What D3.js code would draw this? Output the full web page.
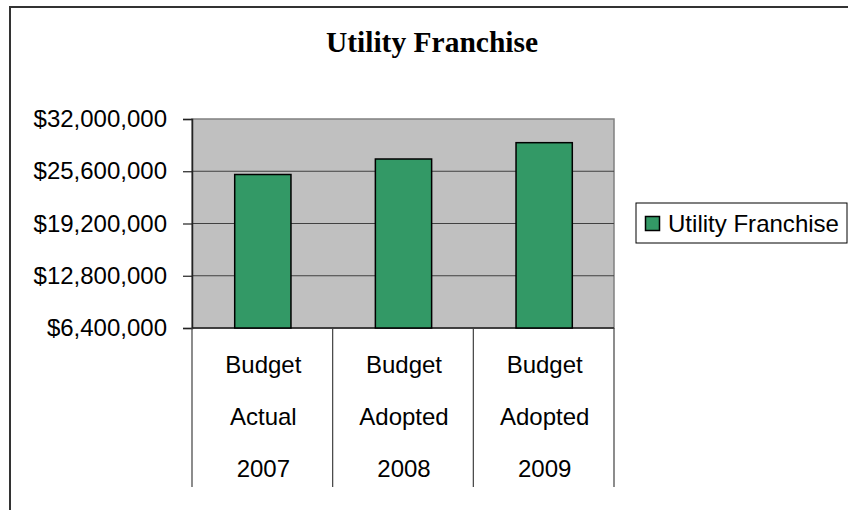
<!DOCTYPE html>
<html>
<head>
<meta charset="utf-8">
<script src="https://cdn.jsdelivr.net/npm/d3@7"></script>
<style>
  html, body { margin: 0; padding: 0; background: #fff; }
  svg { display: block; }
</style>
</head>
<body>
<svg id="chart" width="848" height="510"></svg>
<script>
const chartTitle = "Utility Franchise";
const seriesName = "Utility Franchise";
const categories = [
  ["Budget", "Actual", "2007"],
  ["Budget", "Adopted", "2008"],
  ["Budget", "Adopted", "2009"]
];
const values = [25200000, 27100000, 29100000];
const yTicks = [6400000, 12800000, 19200000, 25600000, 32000000];

const svg = d3.select("#chart");
const plot = { left: 192, right: 614, top: 119, bottom: 328 };
const sans = "'Liberation Sans', Arial, sans-serif";

// outer chart border (extends past right and bottom)
svg.append("rect")
  .attr("x", 10).attr("y", 7).attr("width", 900).attr("height", 600)
  .attr("fill", "#fff").attr("stroke", "#333").attr("stroke-width", 2);

// title
svg.append("text")
  .attr("x", 432).attr("y", 52)
  .attr("text-anchor", "middle")
  .style("font-family", "'Liberation Serif', 'Times New Roman', serif")
  .style("font-weight", "bold").style("font-size", "29.5px")
  .attr("fill", "#000")
  .text(chartTitle);

const y = d3.scaleLinear().domain([6400000, 32000000]).range([plot.bottom, plot.top]);
const x = d3.scaleBand().domain(d3.range(categories.length)).range([plot.left, plot.right]).padding(0);

// plot area
svg.append("rect")
  .attr("x", plot.left).attr("y", plot.top)
  .attr("width", plot.right - plot.left).attr("height", plot.bottom - plot.top)
  .attr("fill", "#C0C0C0").attr("stroke", "#808080").attr("stroke-width", 1.5);

// gridlines
svg.append("g").selectAll("line").data(yTicks.slice(1, -1)).join("line")
  .attr("x1", plot.left).attr("x2", plot.right)
  .attr("y1", d => y(d)).attr("y2", d => y(d))
  .attr("stroke", "#404040").attr("stroke-width", 1.2);

// y axis
const fmt = d => "$" + d3.format(",")(d);
const yAxis = d3.axisLeft(y).tickValues(yTicks).tickFormat(fmt).tickSize(9).tickPadding(16);
const gy = svg.append("g").attr("transform", `translate(${plot.left},0)`).call(yAxis);
gy.select(".domain").attr("stroke", "#222").attr("stroke-width", 1.5);
gy.selectAll(".tick line").attr("stroke", "#222").attr("stroke-width", 1.2);
gy.selectAll(".tick text")
  .style("font-family", sans).style("font-size", "24px").attr("fill", "#000")
  .attr("dy", "0.32em");

// x axis line
svg.append("line")
  .attr("x1", plot.left).attr("x2", plot.right)
  .attr("y1", plot.bottom).attr("y2", plot.bottom)
  .attr("stroke", "#222").attr("stroke-width", 1.5);

// category separators
const bounds = d3.range(categories.length + 1).map(i => i < categories.length ? x(i) : x(i - 1) + x.bandwidth());
svg.append("g").selectAll("line").data(bounds).join("line")
  .attr("x1", d => d).attr("x2", d => d)
  .attr("y1", plot.bottom).attr("y2", 487)
  .attr("stroke", "#404040").attr("stroke-width", 1.2);

// category labels
const lineYs = [373, 425, 477];
categories.forEach((lines, i) => {
  lines.forEach((t, j) => {
    svg.append("text")
      .attr("x", x(i) + x.bandwidth() / 2 + 1)
      .attr("y", lineYs[j])
      .attr("text-anchor", "middle")
      .style("font-family", sans).style("font-size", "24px")
      .attr("fill", "#000")
      .text(t);
  });
});

// bars
const barW = x.bandwidth() * 0.4;
svg.append("g").selectAll("rect").data(values).join("rect")
  .attr("x", (d, i) => x(i) + x.bandwidth() / 2 - barW / 2 + 0.5)
  .attr("y", d => y(d))
  .attr("width", barW)
  .attr("height", d => y(6400000) - y(d))
  .attr("fill", "#339966").attr("stroke", "#000").attr("stroke-width", 1.5);

// legend
const lg = svg.append("g");
lg.append("rect").attr("x", 636).attr("y", 203).attr("width", 211).attr("height", 40)
  .attr("fill", "#fff").attr("stroke", "#000").attr("stroke-width", 1);
lg.append("rect").attr("x", 645.5).attr("y", 216.5).attr("width", 14).attr("height", 14)
  .attr("fill", "#339966").attr("stroke", "#000").attr("stroke-width", 1.5);
lg.append("text").attr("x", 668).attr("y", 232)
  .style("font-family", sans).style("font-size", "24px").attr("fill", "#000")
  .attr("textLength", 171).attr("lengthAdjust", "spacingAndGlyphs")
  .text(seriesName);
</script>
</body>
</html>
